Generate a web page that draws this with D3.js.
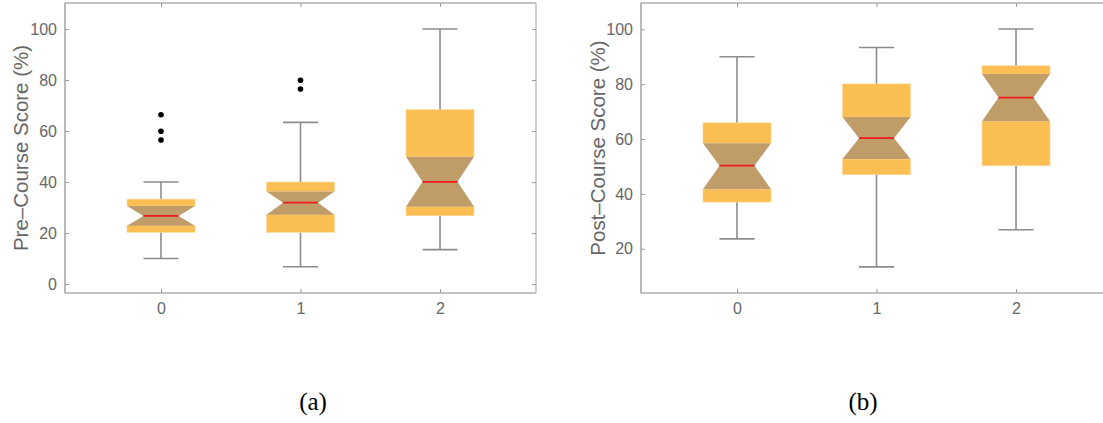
<!DOCTYPE html>
<html>
<head>
<meta charset="utf-8">
<script src="https://cdn.jsdelivr.net/npm/d3@7"></script>
<style>
  body { margin: 0; background: #fff; }
  svg { display: block; }
</style>
</head>
<body>
<script>
// categories on the x axis
var groups = ["0", "1", "2"];

// pre-course scores (panel a): whisker low, Q1, notch low, median, notch high, Q3, whisker high
var preLow     = [10, 6.8, 13.5];
var preQ1      = [20.3, 20.3, 26.8];
var preNotchLo = [22.9, 27.2, 30.3];
var preMedian  = [26.7, 31.9, 40.1];
var preNotchHi = [30.6, 36.3, 49.9];
var preQ3      = [33.3, 40, 68.4];
var preHigh    = [40, 63.4, 100];
var preOutliers = [[66.4, 59.9, 56.5], [79.9, 76.5], []];

// post-course scores (panel b)
var postLow     = [23.6, 13.4, 26.9];
var postQ1      = [37.0, 47.0, 50.3];
var postNotchLo = [41.7, 52.7, 66.5];
var postMedian  = [50.3, 60.3, 75.1];
var postNotchHi = [58.5, 68.0, 83.7];
var postQ3      = [65.9, 80.1, 86.7];
var postHigh    = [90.0, 93.4, 100.1];
var postOutliers = [[], [], []];

var yTicksPre  = [0, 20, 40, 60, 80, 100];
var yTicksPost = [20, 40, 60, 80, 100];

var svgWidth = 1103, svgHeight = 423;
var svg = d3.select("body").append("svg")
            .attr("width", svgWidth)
            .attr("height", svgHeight);

function buildRows(lo, q1, nlo, med, nhi, q3, hi, outl) {
  return groups.map(function(g, i) {
    return { g: g, lo: lo[i], q1: q1[i], nlo: nlo[i], med: med[i], nhi: nhi[i], q3: q3[i], hi: hi[i], out: outl[i] };
  });
}

function drawPanel(opt) {
  var x = d3.scaleLinear().domain(opt.xDomain).range([opt.left, opt.right]);
  var y = d3.scaleLinear().domain(opt.yDomain).range([opt.bottom, opt.top]);
  var g = svg.append("g");
  var frame = "#8a8a8a", textCol = "#666";

  var halfBox = 34, halfWaist = 17.5;

  var cell = g.selectAll("g.box").data(opt.rows).enter().append("g").attr("class", "box");

  // whiskers
  cell.append("line")
      .attr("x1", function(d) { return x(+d.g); }).attr("x2", function(d) { return x(+d.g); })
      .attr("y1", function(d) { return y(d.hi); }).attr("y2", function(d) { return y(d.q3); })
      .attr("stroke", "#8c8c8c").attr("stroke-width", 1.6);
  cell.append("line")
      .attr("x1", function(d) { return x(+d.g); }).attr("x2", function(d) { return x(+d.g); })
      .attr("y1", function(d) { return y(d.lo); }).attr("y2", function(d) { return y(d.q1); })
      .attr("stroke", "#8c8c8c").attr("stroke-width", 1.6);
  ["hi", "lo"].forEach(function(k) {
    cell.append("line")
        .attr("x1", function(d) { return x(+d.g) - halfWaist; }).attr("x2", function(d) { return x(+d.g) + halfWaist; })
        .attr("y1", function(d) { return y(d[k]); }).attr("y2", function(d) { return y(d[k]); })
        .attr("stroke", "#8c8c8c").attr("stroke-width", 1.6);
  });

  // orange box parts above and below the notch
  cell.append("rect")
      .attr("x", function(d) { return x(+d.g) - halfBox; })
      .attr("y", function(d) { return y(d.q3); })
      .attr("width", halfBox * 2)
      .attr("height", function(d) { return y(d.nhi) - y(d.q3); })
      .attr("fill", "#fbbe52").attr("stroke", "#fdd89a").attr("stroke-width", 0.6);
  cell.append("rect")
      .attr("x", function(d) { return x(+d.g) - halfBox; })
      .attr("y", function(d) { return y(d.nlo); })
      .attr("width", halfBox * 2)
      .attr("height", function(d) { return y(d.q1) - y(d.nlo); })
      .attr("fill", "#fbbe52").attr("stroke", "#fdd89a").attr("stroke-width", 0.6);

  // tan notch hourglass
  cell.append("path")
      .attr("d", function(d) {
        var cx = x(+d.g);
        return d3.line()([
          [cx - halfBox, y(d.nhi)], [cx + halfBox, y(d.nhi)],
          [cx + halfWaist, y(d.med)], [cx + halfBox, y(d.nlo)],
          [cx - halfBox, y(d.nlo)], [cx - halfWaist, y(d.med)]
        ]) + "Z";
      })
      .attr("fill", "#bf9c68");

  // median
  cell.append("line")
      .attr("x1", function(d) { return x(+d.g) - halfWaist; }).attr("x2", function(d) { return x(+d.g) + halfWaist; })
      .attr("y1", function(d) { return y(d.med); }).attr("y2", function(d) { return y(d.med); })
      .attr("stroke", "#ee1c1c").attr("stroke-width", 1.8);

  // outliers
  cell.selectAll("circle").data(function(d) { return d.out.map(function(v) { return { g: d.g, v: v }; }); })
      .enter().append("circle")
      .attr("cx", function(d) { return x(+d.g); })
      .attr("cy", function(d) { return y(d.v); })
      .attr("r", 2.8).attr("fill", "#000");

  // frame
  g.append("line").attr("x1", opt.left).attr("x2", opt.right).attr("y1", opt.bottom).attr("y2", opt.bottom)
   .attr("stroke", frame).attr("stroke-width", 1.2);
  g.append("line").attr("x1", opt.left).attr("x2", opt.right).attr("y1", opt.top).attr("y2", opt.top)
   .attr("stroke", frame).attr("stroke-width", 1.2);
  g.append("line").attr("x1", opt.left).attr("x2", opt.left).attr("y1", opt.top).attr("y2", opt.bottom)
   .attr("stroke", frame).attr("stroke-width", 1.2);
  if (opt.right < svgWidth) {
    g.append("line").attr("x1", opt.right).attr("x2", opt.right).attr("y1", opt.top).attr("y2", opt.bottom)
     .attr("stroke", "#b4b4b4").attr("stroke-width", 1.2);
  }

  // x ticks (bottom + top), y ticks (left + right)
  var xAx = d3.axisBottom(x).tickValues(groups.map(Number)).tickSize(-4).tickPadding(10).tickFormat(d3.format("d"));
  var gx = g.append("g").attr("transform", "translate(0," + opt.bottom + ")").call(xAx);
  var xTop = d3.axisTop(x).tickValues(groups.map(Number)).tickSize(-4).tickFormat("");
  var gxt = g.append("g").attr("transform", "translate(0," + opt.top + ")").call(xTop);
  var yAx = d3.axisLeft(y).tickValues(opt.yTicks).tickSize(-4).tickPadding(8);
  var gy = g.append("g").attr("transform", "translate(" + opt.left + ",0)").call(yAx);
  var yRight = d3.axisRight(y).tickValues(opt.yTicks).tickSize(-4).tickFormat("");
  var gyr = g.append("g").attr("transform", "translate(" + opt.right + ",0)").call(yRight);
  [gx, gxt, gy, gyr].forEach(function(a) {
    a.select(".domain").remove();
    a.selectAll(".tick line").attr("stroke", "#9a9a9a");
    a.selectAll("text").attr("fill", textCol).style("font-family", "'Liberation Sans', Arial, sans-serif").style("font-size", "16px");
  });

  // axis label
  g.append("text")
   .attr("transform", "translate(" + opt.labelX + "," + ((opt.top + opt.bottom) / 2) + ") rotate(-90)")
   .attr("text-anchor", "middle")
   .attr("fill", textCol)
   .style("font-family", "'Liberation Sans', Arial, sans-serif")
   .style("font-size", "20.5px")
   .text(opt.label);

  // caption
  svg.append("text")
     .attr("x", opt.captionX).attr("y", 410)
     .attr("text-anchor", "middle")
     .style("font-family", "'Liberation Serif', 'Times New Roman', serif")
     .style("font-size", "25px")
     .attr("fill", "#000")
     .text(opt.caption);
}

drawPanel({
  rows: buildRows(preLow, preQ1, preNotchLo, preMedian, preNotchHi, preQ3, preHigh, preOutliers),
  left: 65, right: 536, top: 3, bottom: 293,
  xDomain: [-0.688, 2.688], yDomain: [-3.5, 110.2],
  yTicks: yTicksPre,
  label: "Pre\u2013Course Score (%)", labelX: 28,
  caption: "(a)", captionX: 313
});

drawPanel({
  rows: buildRows(postLow, postQ1, postNotchLo, postMedian, postNotchHi, postQ3, postHigh, postOutliers),
  left: 641, right: 1112, top: 3, bottom: 293,
  xDomain: [-0.688, 2.688], yDomain: [3.86, 109.6],
  yTicks: yTicksPost,
  label: "Post\u2013Course Score (%)", labelX: 605,
  caption: "(b)", captionX: 863
});
</script>
</body>
</html>
